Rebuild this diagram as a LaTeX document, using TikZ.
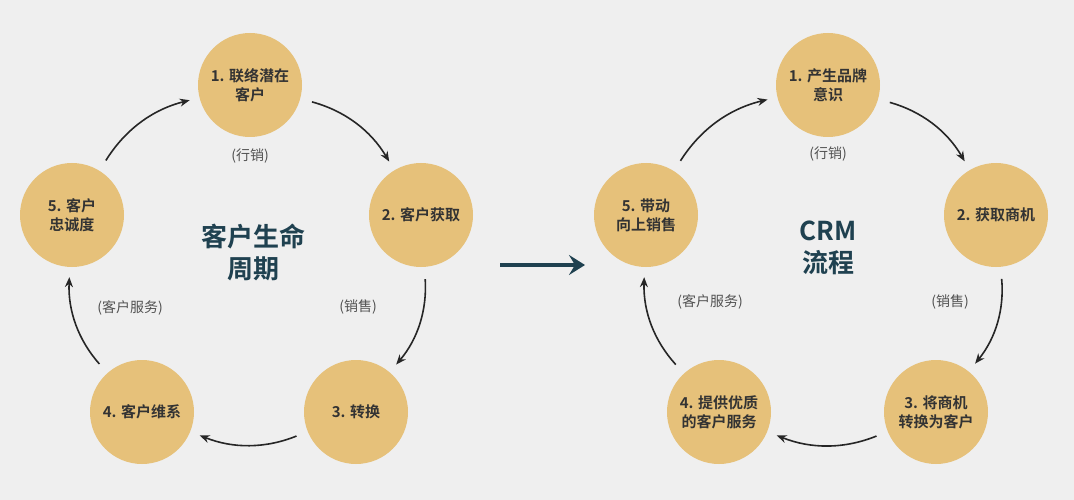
\documentclass[tikz,border=0pt]{standalone}
\usepackage{fontspec}
\setmainfont{Noto Sans CJK SC}
\newfontfamily\cjkb{Noto Sans CJK SC Bold}
\usetikzlibrary{arrows.meta}
\definecolor{bg}{HTML}{EFEFEF}
\definecolor{disc}{HTML}{E6C17A}
\definecolor{txt}{HTML}{333333}
\definecolor{teal}{HTML}{1F4150}
\begin{document}
\begin{tikzpicture}[x=1pt,y=-1pt,
  stage/.style={circle,fill=disc,minimum size=104pt,inner sep=0pt,align=center,font=\cjkb\fontsize{15}{19}\selectfont,text=txt},
  lbl/.style={font=\fontsize{14}{16}\selectfont,text=txt!85},
  ttl/.style={font=\cjkb\fontsize{26}{32}\selectfont,text=teal,align=center},
  cyc/.style={-{Stealth[length=10pt,width=8pt]},line width=1.6pt,black!85,shorten <=12pt,shorten >=10pt}]
\fill[bg] (0,0) rectangle (1074,500);
\useasboundingbox (0,0) rectangle (1074,500);
% left
\node[stage] (a1) at (250,85) {1. 联络潜在\\客户};
\node[stage] (a2) at (421,215) {2. 客户获取};
\node[stage] (a3) at (356,412) {3. 转换};
\node[stage] (a4) at (142,412) {4. 客户维系};
\node[stage] (a5) at (72,215) {5. 客户\\忠诚度};
\node[ttl] (at) at (253,252) {客户生命\\周期};
\node[lbl] (al1) at (250,156) {(行销)};
\node[lbl] (al2) at (358,307) {(销售)};
\node[lbl] (al3) at (130,308) {(客户服务)};
\draw[cyc] (a1) to[bend left=22] (a2);
\draw[cyc] (a2) to[bend left=22] (a3);
\draw[cyc] (a3) to[bend left=22] (a4);
\draw[cyc] (a4) to[bend left=22] (a5);
\draw[cyc] (a5) to[bend left=22] (a1);
% arrow
\coordinate (m1) at (500,265); \coordinate (m2) at (585,265);
\draw[-{Stealth[length=16pt,width=20pt,inset=6pt]},line width=3.5pt,teal] (m1) -- (m2);
% right
\node[stage] (b1) at (828,85) {1. 产生品牌\\意识};
\node[stage] (b2) at (996,215) {2. 获取商机};
\node[stage] (b3) at (936,412) {3. 将商机\\转换为客户};
\node[stage] (b4) at (719,412) {4. 提供优质\\的客户服务};
\node[stage] (b5) at (646,215) {5. 带动\\向上销售};
\node[ttl] (bt) at (828,248) {CRM\\流程};
\node[lbl] (bl1) at (828,154) {(行销)};
\node[lbl] (bl2) at (950,302) {(销售)};
\node[lbl] (bl3) at (710,302) {(客户服务)};
\draw[cyc] (b1) to[bend left=22] (b2);
\draw[cyc] (b2) to[bend left=22] (b3);
\draw[cyc] (b3) to[bend left=22] (b4);
\draw[cyc] (b4) to[bend left=22] (b5);
\draw[cyc] (b5) to[bend left=22] (b1);
\end{tikzpicture}
\end{document}
